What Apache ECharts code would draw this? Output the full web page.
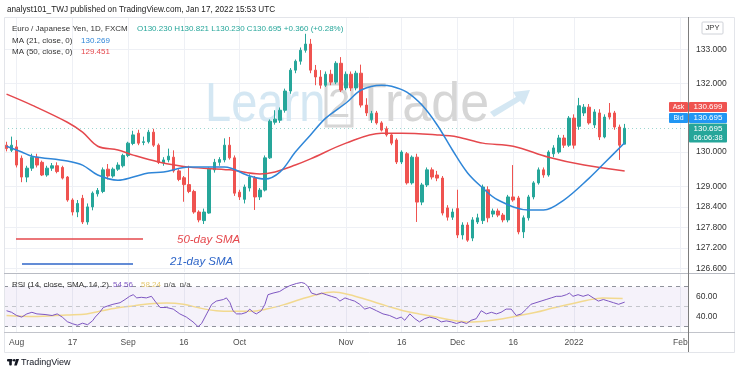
<!DOCTYPE html>
<html>
<head>
<meta charset="utf-8">
<title>EURJPY 1D</title>
<script src="https://cdn.jsdelivr.net/npm/echarts@6/dist/echarts.min.js"></script>
<style>
  html, body { margin: 0; padding: 0; background: #fff; }
  #chart { width: 740px; height: 376px; }
</style>
</head>
<body>
<div id="chart"></div>
<script>
// session index 0 = 2 Aug 2021, the view starts two sessions earlier (29 Jul)
const firstSession = -2
const sessionCount = 135

// [open, close, low, high], 29 Jul 2021 .. 17 Jan 2022
const candles = [
  [130.20, 130.10, 130.02, 130.30], [130.05, 130.20, 130.00, 130.45],
  [130.15, 129.62, 129.55, 130.35], [129.82, 129.27, 129.12, 129.90], [129.27, 129.53, 129.12, 129.60],
  [129.53, 129.85, 129.45, 129.95], [129.85, 129.62, 129.55, 129.95], [129.70, 129.33, 129.30, 129.75],
  [129.33, 129.53, 129.28, 129.60], [129.53, 129.60, 129.45, 129.68], [129.60, 129.43, 129.38, 129.70],
  [129.55, 129.24, 129.20, 129.60], [129.27, 128.60, 128.55, 129.30], [128.60, 128.25, 128.15, 128.65],
  [128.25, 128.50, 128.10, 128.60], [128.65, 127.96, 127.90, 128.75], [127.96, 128.40, 127.88, 128.50],
  [128.40, 128.80, 128.30, 128.85], [128.78, 128.88, 128.70, 128.95], [128.85, 129.48, 128.80, 129.55],
  [129.50, 129.30, 129.20, 129.65], [129.30, 129.50, 129.25, 129.55], [129.50, 129.62, 129.45, 129.70],
  [129.60, 129.90, 129.55, 129.95], [129.90, 130.26, 129.85, 130.30], [130.25, 130.50, 130.20, 130.62],
  [130.55, 130.26, 130.20, 130.65], [130.28, 130.30, 130.20, 130.45], [130.30, 130.58, 130.25, 130.65],
  [130.58, 130.20, 130.15, 130.68], [130.20, 129.70, 129.65, 130.25], [129.68, 129.77, 129.60, 129.85],
  [129.77, 129.88, 129.70, 130.10], [129.85, 129.45, 129.40, 130.05], [129.45, 129.20, 129.15, 129.50],
  [129.25, 129.05, 128.55, 129.30], [129.05, 128.85, 128.80, 129.60], [128.85, 128.25, 128.20, 128.90],
  [128.25, 128.02, 127.95, 128.30], [128.00, 128.25, 127.90, 128.35], [128.22, 129.50, 128.20, 129.55],
  [129.48, 129.70, 129.40, 129.80], [129.70, 129.78, 129.60, 129.85], [129.77, 130.20, 129.70, 130.40],
  [130.20, 129.83, 129.78, 130.44], [129.83, 128.80, 128.72, 129.90], [128.83, 128.69, 128.60, 128.90],
  [128.62, 128.98, 128.50, 129.05], [128.95, 129.27, 128.85, 129.35], [129.24, 128.69, 128.31, 129.30],
  [128.69, 128.89, 128.60, 128.95], [128.89, 129.83, 128.85, 129.90], [129.83, 130.90, 129.80, 130.95],
  [130.87, 130.96, 130.80, 131.22], [130.93, 131.22, 130.85, 131.30], [131.22, 131.78, 131.15, 131.85],
  [131.78, 132.39, 131.70, 132.45], [132.39, 132.65, 132.30, 132.70], [132.65, 132.97, 132.55, 133.05],
  [132.97, 133.15, 132.90, 133.45], [133.15, 132.39, 132.30, 133.30], [132.39, 132.19, 131.95, 132.54],
  [132.19, 131.95, 131.85, 132.39], [131.95, 132.27, 131.90, 132.35], [132.27, 132.04, 131.95, 132.40],
  [132.04, 132.59, 131.98, 132.65], [132.59, 131.81, 131.75, 132.77], [131.87, 132.27, 131.80, 132.35],
  [132.27, 131.87, 131.78, 132.35], [131.87, 132.30, 131.80, 132.37], [132.30, 131.37, 131.30, 132.55],
  [131.37, 131.14, 131.05, 131.57], [130.95, 131.12, 130.85, 131.20], [131.14, 130.85, 130.80, 131.20],
  [130.85, 130.64, 130.60, 130.90], [130.68, 130.50, 130.45, 130.75], [130.50, 130.26, 130.20, 130.55],
  [130.35, 129.71, 129.65, 130.40], [129.71, 130.00, 129.65, 130.05], [129.95, 129.10, 129.05, 130.00],
  [129.10, 129.85, 129.05, 129.90], [129.85, 128.54, 127.96, 129.95], [128.54, 129.04, 128.45, 129.10],
  [129.04, 129.48, 128.98, 129.55], [129.48, 129.27, 129.20, 129.55], [129.33, 129.24, 129.15, 129.45],
  [129.24, 128.22, 128.15, 129.30], [128.37, 128.10, 128.00, 128.45], [128.10, 128.25, 128.02, 128.35],
  [128.35, 127.58, 127.49, 128.90], [127.58, 127.87, 127.45, 127.95], [127.87, 127.43, 127.38, 127.95],
  [127.49, 128.02, 127.40, 128.10], [127.96, 128.08, 127.90, 128.20], [128.00, 128.98, 127.90, 129.05],
  [128.90, 128.08, 127.95, 129.00], [128.19, 128.28, 128.10, 128.35], [128.28, 128.16, 128.10, 128.35],
  [128.16, 128.02, 127.95, 128.22], [128.02, 128.69, 127.95, 128.75], [128.69, 128.60, 128.55, 129.62],
  [128.66, 127.67, 127.60, 128.72], [127.67, 128.08, 127.49, 128.15], [128.08, 128.69, 128.00, 128.75],
  [128.69, 129.10, 128.62, 129.15], [129.10, 129.48, 129.05, 129.55], [129.48, 129.33, 129.25, 129.55],
  [129.33, 130.00, 129.28, 130.05], [129.95, 130.12, 129.85, 130.20], [130.00, 130.41, 129.95, 130.50],
  [130.41, 130.20, 130.12, 130.50], [130.20, 130.99, 130.15, 131.05], [130.99, 130.20, 130.10, 131.10],
  [130.75, 131.35, 130.65, 131.58], [131.14, 131.31, 131.05, 131.40], [131.31, 130.85, 130.80, 131.40],
  [130.79, 131.17, 130.70, 131.25], [131.14, 130.44, 130.35, 131.25], [130.44, 131.02, 130.40, 131.10],
  [131.14, 131.02, 130.95, 131.43], [131.14, 130.73, 130.65, 131.20], [130.73, 130.20, 129.77, 130.80],
  [130.23, 130.695, 130.23, 130.821]
]

// moving averages: [session index, value]
const ma21 = [
  [-2, 130.17], [1, 130.00], [3, 129.88], [10, 129.74], [13, 129.62], [16, 129.33], [20, 129.18],
  [23, 129.27], [26, 129.39], [29, 129.42], [34, 129.56], [41, 129.56], [46, 129.30], [49, 129.21],
  [52, 129.42], [55, 130.00], [58, 130.50], [61, 130.99], [65, 131.43], [68, 131.81], [72, 131.95],
  [74, 131.92], [77, 131.75], [80, 131.37], [83, 130.79], [86, 130.06], [89, 129.39], [92, 128.95],
  [95, 128.60], [101, 128.31], [104, 128.31], [108, 128.60], [113, 129.24], [116, 129.68], [120, 130.27]
]
const ma50 = [
  [-2, 131.69], [3, 131.37], [10, 130.87], [13, 130.58], [16, 130.17], [20, 130.06], [23, 129.91],
  [28, 129.71], [34, 129.56], [42, 129.48], [48, 129.36], [51, 129.42], [55, 129.62], [58, 129.80],
  [65, 130.26], [72, 130.55], [76, 130.55], [83, 130.50], [87, 130.44], [92, 130.26], [98, 130.17],
  [105, 129.85], [112, 129.62], [120, 129.45]
]

// RSI(14) and its SMA(14)
const rsi = [
  [-2, 46], [-1, 44.4], [0, 41.2], [1, 39.6], [2, 42.8], [3, 44.4], [4, 42.8], [5.6, 42.2], [7, 41.2],
  [8, 42.8], [9, 39.6], [10, 35], [11, 33], [12, 31.5], [13, 33.5], [14, 32], [15, 36], [15.5, 39.6],
  [16.4, 44.4], [17.1, 49.2], [18, 50.8], [19, 52.4], [20.4, 54], [21.4, 57.2], [22.3, 60.4], [23, 62],
  [23.7, 58.8], [24.6, 59.4], [25.6, 58.8], [26.6, 60.4], [27.3, 55.6], [28.3, 49.2], [29.6, 49.2],
  [30.9, 47.6], [32.2, 42.8], [33.5, 39.6], [34.8, 34.8], [35.8, 30], [36.5, 33.2], [37.5, 42.8],
  [38.5, 52.4], [39.4, 55.6], [40.8, 57.2], [41.4, 58.8], [42.1, 54], [42.7, 46], [43.4, 42.8],
  [44.4, 42.8], [45.4, 44.4], [46, 47.6], [46.7, 44.4], [47.3, 42.8], [48.3, 46], [49, 52.4], [49.6, 62],
  [50.6, 63.6], [51.9, 65.2], [52.9, 68.4], [53.9, 71], [55.2, 73.2], [56.2, 74.2], [56.9, 73.2],
  [57.5, 70], [58.2, 63.6], [59.2, 62], [60.2, 63.6], [61.1, 62], [62.1, 60.4], [63.1, 58.8],
  [63.8, 55.6], [64.8, 58.8], [65.7, 57.2], [66.7, 55.6], [67.7, 52.4], [68.7, 47.6], [69.7, 49.2],
  [71, 46], [72.3, 42.8], [73.6, 41.2], [75, 38], [75.9, 39.6], [76.6, 36.4], [77.6, 42.8], [78.6, 38],
  [79.5, 34.8], [80.5, 38], [81.5, 39.6], [82.8, 38], [83.8, 34.8], [84.8, 35.8], [85.8, 34.8],
  [86.8, 33.2], [87.8, 34.8], [88.8, 33.2], [89.7, 36.4], [90.7, 38], [91.7, 46], [92.7, 42.8],
  [93.7, 44.4], [94.7, 42.8], [95.6, 44.4], [96.6, 47.6], [97.6, 47.6], [98.6, 41.2], [99.6, 42.8],
  [100.6, 47.6], [101.5, 52.4], [102.5, 54], [103.5, 55.6], [104.5, 57.2], [105.5, 58.8], [106.5, 60.4],
  [107.5, 60.4], [108.5, 62], [109.1, 63.6], [109.8, 60.4], [110.8, 62], [111.8, 60.4], [112.8, 62],
  [113.8, 58.8], [114.8, 55.6], [115.8, 57.2], [116.8, 55.6], [117.8, 54], [118.8, 52.4], [120, 54.56]
]
const rsiMa = [
  [-2, 41.2], [3.3, 40.2], [9.9, 41.8], [13.8, 42.8], [16.4, 45.4], [19.7, 48.6], [23, 50.8],
  [26.3, 53], [29.6, 53.7], [32.9, 52.4], [36.2, 48.6], [39.4, 46], [42.7, 45.4], [46, 45.4],
  [49.3, 47.6], [52.6, 51.8], [55.9, 57.2], [59.2, 62], [62.5, 64.6], [65.7, 62], [69, 57.2],
  [73, 50.8], [76.3, 46], [79.5, 42.8], [82.8, 39.6], [86.1, 36.4], [89.4, 34.8], [92.7, 35.8],
  [96, 38], [99.3, 41.2], [102.5, 44.4], [105.8, 48.6], [109.1, 52.4], [112.4, 56.2], [115.7, 58.8],
  [119.6, 58.2]
]

const priceTicks = [126.6, 127.2, 127.8, 128.4, 129, 130, 131, 132, 133]
const rsiTicks = [40, 60]
const tickDates = ['2021-08-02', '2021-08-17', '2021-09-01', '2021-09-16', '2021-10-01', '2021-11-01',
  '2021-11-16', '2021-12-01', '2021-12-16', '2022-01-03', '2022-02-01']
const tickLabels = ['Aug', '17', 'Sep', '16', 'Oct', 'Nov', '16', 'Dec', '16', '2022', 'Feb']

const upColor = '#26a69a'
const downColor = '#ef5350'
const gridColor = '#eef0f5'
const fontFamily = 'Liberation Sans, Arial, sans-serif'

// weekday sessions for the category axis
const sessions = []
for (let d = new Date(Date.UTC(2021, 6, 29)); sessions.length < sessionCount; d.setUTCDate(d.getUTCDate() + 1)) {
  const wd = d.getUTCDay()
  if (wd !== 0 && wd !== 6) sessions.push(d.toISOString().slice(0, 10))
}
const isTick = (i) => tickDates.includes(sessions[i])

const chart = echarts.init(document.getElementById('chart'))

function txt(x, y, text, fill, size, opts) {
  const o = opts || {}
  return {
    type: 'text', z: 20, x: x, y: y,
    style: { text: text, fill: fill, font: (o.italic ? 'italic ' : '') + (size || 8) + 'px ' + fontFamily,
      align: o.align || 'left', verticalAlign: 'middle' }
  }
}
function box(x, y, w, h, fill, stroke) {
  return { type: 'rect', z: 20, shape: { x: x, y: y, width: w, height: h, r: 1 },
    style: { fill: fill, stroke: stroke || null } }
}
function hline(x1, x2, y, color, w) {
  return { type: 'line', z: 15, shape: { x1: x1, y1: y, x2: x2, y2: y }, style: { stroke: color, lineWidth: w || 1 } }
}

const xMin = firstSession - 0.5
const xMax = firstSession + sessionCount - 0.5
const center = { align: 'center' }

const option = {
  animation: false,
  backgroundColor: '#fff',
  grid: [
    { left: 4, right: 52, top: 17, height: 255, containLabel: false, outerBoundsMode: 'none' },
    { left: 4, right: 52, top: 274, height: 58, containLabel: false, outerBoundsMode: 'none' }
  ],
  xAxis: [
    { type: 'category', gridIndex: 0, data: sessions, axisLine: { show: false }, axisTick: { show: false },
      axisLabel: { show: false },
      splitLine: { show: true, interval: isTick, alignWithLabel: true, lineStyle: { color: gridColor } } },
    { type: 'category', gridIndex: 1, data: sessions, axisLine: { show: false }, axisTick: { show: false },
      axisLabel: { show: true, interval: isTick, color: '#4c4c4c', fontSize: 8.5, fontFamily: fontFamily, margin: 6,
        formatter: (v) => tickLabels[tickDates.indexOf(v)] },
      splitLine: { show: true, interval: isTick, alignWithLabel: true, lineStyle: { color: gridColor } } },
    { type: 'value', gridIndex: 0, min: xMin, max: xMax, show: false },
    { type: 'value', gridIndex: 1, min: xMin, max: xMax, show: false }
  ],
  yAxis: [
    { type: 'value', gridIndex: 0, position: 'right', min: 126.50, max: 133.94, scale: true,
      axisLine: { show: false }, axisTick: { show: false, customValues: priceTicks },
      axisLabel: { customValues: priceTicks, color: '#333', fontSize: 8.5, fontFamily: fontFamily, margin: 8,
        formatter: (v) => v.toFixed(3) },
      splitLine: { show: true, lineStyle: { color: gridColor } } },
    { type: 'value', gridIndex: 1, position: 'right', min: 24.7, max: 82.7,
      axisLine: { show: false }, axisTick: { show: false, customValues: rsiTicks },
      axisLabel: { customValues: rsiTicks, color: '#333', fontSize: 8.5, fontFamily: fontFamily, margin: 8,
        formatter: (v) => v.toFixed(2) },
      splitLine: { show: false } }
  ],
  series: [
    { type: 'candlestick', xAxisIndex: 0, yAxisIndex: 0, data: candles, barWidth: 3, z: 3,
      itemStyle: { color: upColor, color0: downColor, borderColor: upColor, borderColor0: downColor, borderWidth: 1 },
      markLine: { silent: true, symbol: 'none', label: { show: false },
        lineStyle: { color: upColor, type: [1, 3], width: 1, opacity: 0.45 },
        data: [{ yAxis: 130.695 }] } },
    { type: 'line', xAxisIndex: 2, yAxisIndex: 0, data: ma50, smooth: 0.35, symbol: 'none', z: 4,
      lineStyle: { color: '#e5484d', width: 1.5 } },
    { type: 'line', xAxisIndex: 2, yAxisIndex: 0, data: ma21, smooth: 0.35, symbol: 'none', z: 4,
      lineStyle: { color: '#2f86d8', width: 1.5 } },
    { type: 'line', xAxisIndex: 3, yAxisIndex: 1, data: rsiMa, smooth: 0.35, symbol: 'none', z: 4,
      lineStyle: { color: '#f2d98f', width: 1.5 } },
    { type: 'line', xAxisIndex: 3, yAxisIndex: 1, data: rsi, symbol: 'none', z: 5,
      lineStyle: { color: '#7e57c2', width: 1 },
      markArea: { silent: true, itemStyle: { color: 'rgba(126,87,194,0.08)' },
        data: [[{ yAxis: 30 }, { yAxis: 70 }]] },
      markLine: { silent: true, symbol: 'none', label: { show: false },
        lineStyle: { color: '#8f929b', type: [4, 4], width: 1 },
        data: [{ yAxis: 70 }, { yAxis: 30 }, { yAxis: 50, lineStyle: { color: '#c4c6cc' } }] } }
  ],
  graphic: [
    // frame and pane separators
    { type: 'rect', z: 14, shape: { x: 4.5, y: 17.5, width: 730, height: 335 },
      style: { fill: null, stroke: '#e3e5ea' } },
    hline(4, 735, 273.5, '#b8bbc3'),
    hline(4, 735, 332.5, '#c2c4cb'),
    { type: 'line', z: 15, shape: { x1: 688.5, y1: 17, x2: 688.5, y2: 352 }, style: { stroke: '#7d7d7d', lineWidth: 1 } },

    // Learn2Trade watermark
    { type: 'text', z: 1, x: 205, y: 106, scaleX: 0.84,
      style: { text: 'Learn', fill: '#d4e7f3', font: '56px ' + fontFamily, verticalAlign: 'middle' } },
    { type: 'rect', z: 1, shape: { x: 326, y: 84, width: 26, height: 42 },
      style: { fill: null, stroke: '#d6d6d6', lineWidth: 3 } },
    { type: 'text', z: 1, x: 339, y: 106, style: { text: '2', fill: '#d6d6d6', font: '40px ' + fontFamily,
      align: 'center', verticalAlign: 'middle' } },
    { type: 'text', z: 1, x: 355, y: 106, scaleX: 0.93,
      style: { text: 'Trade', fill: '#d6d6d6', font: '56px ' + fontFamily, verticalAlign: 'middle' } },
    { type: 'polygon', z: 1, shape: { points: [[490, 112], [516, 97], [513, 92], [530, 90], [524, 105], [520, 101], [494, 117]] },
      style: { fill: '#d4e7f3' } },

    // title and legends
    txt(7, 10, 'analyst101_TWJ published on TradingView.com, Jan 17, 2022 15:53 UTC', '#222', 8.2),
    txt(12, 29, 'Euro / Japanese Yen, 1D, FXCM', '#333', 8),
    txt(137, 29, 'O130.230 H130.821 L130.230 C130.695 +0.360 (+0.28%)', upColor, 8),
    txt(12, 41, 'MA (21, close, 0)', '#333', 8),
    txt(81, 41, '130.269', '#2f86d8', 8),
    txt(12, 52, 'MA (50, close, 0)', '#333', 8),
    txt(81, 52, '129.451', '#e5484d', 8),
    txt(12, 285, 'RSI (14, close, SMA, 14, 2)', '#333', 8),
    txt(113, 285, '54.56', '#7e57c2', 8),
    txt(141, 285, '58.24', '#e6c970', 8),
    txt(164, 285, 'n/a  n/a', '#555', 8),

    // hand-drawn annotations
    hline(16, 143, 239, '#e5484d', 1.5),
    txt(177, 240, '50-day SMA', '#e5484d', 11.5, { italic: true }),
    hline(22, 133, 264, '#2f66c8', 1.5),
    txt(170, 262, '21-day SMA', '#2f66c8', 11.5, { italic: true }),

    // price scale badges
    box(702, 22, 21, 12, '#fff', '#cfd2d8'),
    txt(712.5, 28, 'JPY', '#333', 7.5, center),
    box(669, 102, 19, 10, downColor),
    txt(678.5, 107, 'Ask', '#fff', 7, center),
    box(689, 102, 38, 10, downColor),
    txt(708, 107, '130.699', '#fff', 8, center),
    box(669, 113, 19, 10, '#2196f3'),
    txt(678.5, 118, 'Bid', '#fff', 7, center),
    box(689, 113, 38, 10, '#2196f3'),
    txt(708, 118, '130.695', '#fff', 8, center),
    box(689, 123.5, 38, 19, upColor),
    txt(708, 129, '130.695', '#fff', 8, center),
    txt(708, 138, '06:06:38', '#fff', 7.5, center),

    // TradingView footer
    box(7, 359, 5.5, 2.5, '#131722'),
    box(9.2, 359, 2.6, 6.5, '#131722'),
    { type: 'circle', z: 20, shape: { cx: 14.2, cy: 360.3, r: 1.3 }, style: { fill: '#131722' } },
    { type: 'polygon', z: 20, shape: { points: [[16, 359], [19, 359], [16.8, 365.5], [14.2, 365.5]] }, style: { fill: '#131722' } },
    txt(21, 362.5, 'TradingView', '#131722', 9)
  ]
}

chart.setOption(option)
</script>
</body>
</html>
